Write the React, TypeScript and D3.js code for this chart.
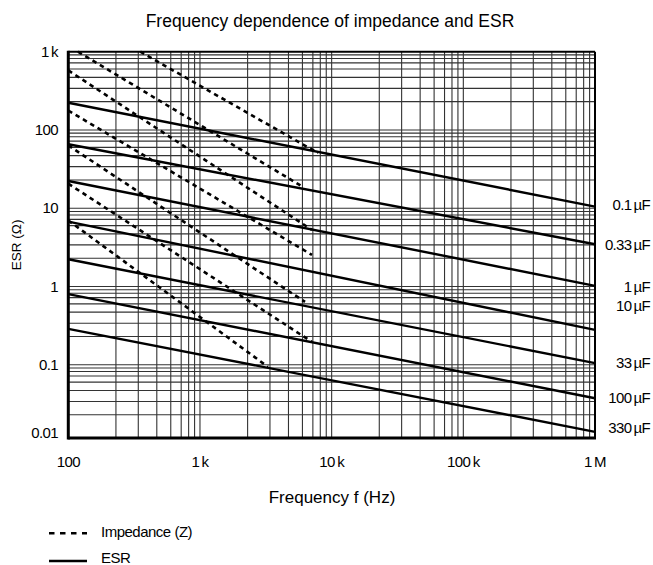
import React, { useEffect, useRef } from 'react';
import * as d3 from 'd3';

// ESR curves, one per capacitance (ohms at 100 Hz and at 1 MHz)
const capLabels = ['0.1\u2009µF', '0.33\u2009µF', '1\u2009µF', '10\u2009µF', '33\u2009µF', '100\u2009µF', '330\u2009µF'];
const esrAt100Hz = [223, 65.6, 22.3, 6.74, 2.23, 0.8, 0.288];
const esrAt1MHz = [10.5, 3.47, 1.02, 0.279, 0.105, 0.0374, 0.0139];
// level (ohms) where each capacitance label sits on the right
const labelLevel = [11.0, 3.4, 1.0, 0.565, 0.107, 0.0374, 0.0156];

// impedance curves: start and end points
const zStartFreq = [352, 118.5, 100, 100, 100, 100, 100];
const zStartOhm = [1000, 1000, 577, 177, 63.4, 20.6, 6.98];
const zEndFreq = [7876, 6057, 7093, 7093, 6278, 7093, 3286];
const zEndOhm = [50.8, 18.7, 5.28, 2.53, 0.635, 0.196, 0.094];

const xTicks = [100, 1e3, 1e4, 1e5, 1e6];
const xTickLabels = ['100', '1\u2009k', '10\u2009k', '100\u2009k', '1\u2009M'];
const yTicks = [1000, 100, 10, 1, 0.1, 0.01];
const yTickLabels = ['1\u2009k', '100', '10', '1', '0.1', '0.01'];
// minor grid steps inside each decade, as drawn on the sheet
const gridSteps = [2.3, 3.4, 4.7, 6, 7.2, 8.2, 9.1];

const font = "'Liberation Sans', Arial, sans-serif";
const W = 653;
const H = 565;
const plot = { left: 68.3, right: 595, top: 51.7, bottom: 438 };

export default function App() {
    const ref = useRef<SVGSVGElement>(null);

    useEffect(() => {
        if (!ref.current) return;
        const svg = d3.select(ref.current);
        svg.selectAll('*').remove();

        const x = d3.scaleLog().domain([100, 1e6]).range([plot.left, plot.right]);
        const y = d3.scaleLog().domain([0.0116, 1000]).range([plot.bottom, plot.top]).clamp(true);

        // grid
        const xGrid: number[] = [];
        [100, 1e3, 1e4, 1e5].forEach(d => {
            gridSteps.forEach(m => xGrid.push(d * m));
            if (d > 100) xGrid.push(d);
        });
        const yGrid: number[] = [];
        [0.01, 0.1, 1, 10, 100].forEach(d => {
            gridSteps.forEach(m => { if (d * m > 0.0116) yGrid.push(d * m); });
            if (d > 0.01) yGrid.push(d);
        });
        const grid = svg.append('g').attr('stroke', '#333').attr('stroke-width', 1.1);
        grid.selectAll('line.gx').data(xGrid).enter().append('line')
            .attr('x1', d => x(d)).attr('x2', d => x(d))
            .attr('y1', plot.top).attr('y2', plot.bottom);
        grid.selectAll('line.gy').data(yGrid).enter().append('line')
            .attr('y1', d => y(d)).attr('y2', d => y(d))
            .attr('x1', plot.left).attr('x2', plot.right);

        const line = d3.line<[number, number]>().x(d => x(d[0])).y(d => y(d[1]));

        // impedance (dashed)
        svg.append('g').selectAll('path').data(zStartFreq.map((f, i) => [[f, zStartOhm[i]], [zEndFreq[i], zEndOhm[i]]] as [number, number][]))
            .enter().append('path')
            .attr('d', d => line(d))
            .attr('fill', 'none').attr('stroke', '#000').attr('stroke-width', 2.6)
            .attr('stroke-dasharray', '4.5 4');

        // ESR (solid)
        svg.append('g').selectAll('path').data(esrAt100Hz.map((v, i) => [[100, v], [1e6, esrAt1MHz[i]]] as [number, number][]))
            .enter().append('path')
            .attr('d', d => line(d))
            .attr('fill', 'none').attr('stroke', '#000').attr('stroke-width', 2.4);

        // frame
        const frame = svg.append('g').attr('stroke', '#000');
        frame.append('line').attr('x1', plot.left).attr('x2', plot.right).attr('y1', plot.top).attr('y2', plot.top).attr('stroke-width', 2);
        frame.append('line').attr('x1', plot.right).attr('x2', plot.right).attr('y1', plot.top).attr('y2', plot.bottom).attr('stroke-width', 2);
        frame.append('line').attr('x1', plot.left).attr('x2', plot.left).attr('y1', plot.top - 1).attr('y2', plot.bottom + 1.5).attr('stroke-width', 3);
        frame.append('line').attr('x1', plot.left).attr('x2', plot.right + 1).attr('y1', plot.bottom).attr('y2', plot.bottom).attr('stroke-width', 3);

        const text = svg.append('g').attr('font-family', font).attr('fill', '#000');

        // x ticks
        text.selectAll('text.xt').data(xTicks).enter().append('text')
            .attr('x', d => x(d)).attr('y', 467)
            .attr('text-anchor', 'middle').attr('font-size', 15).attr('letter-spacing', -0.6)
            .text((d, i) => xTickLabels[i]);

        // y ticks
        text.selectAll('text.yt').data(yTicks).enter().append('text')
            .attr('x', 58).attr('y', d => Math.min(y(d), plot.bottom - 5))
            .attr('dy', '0.35em')
            .attr('text-anchor', 'end').attr('font-size', 15).attr('letter-spacing', -0.6)
            .text((d, i) => yTickLabels[i]);

        // capacitance labels
        text.selectAll('text.cap').data(labelLevel).enter().append('text')
            .attr('x', 650).attr('y', d => y(d))
            .attr('dy', '0.35em')
            .attr('text-anchor', 'end').attr('font-size', 15).attr('letter-spacing', -0.7)
            .text((d, i) => capLabels[i]);

        // titles
        text.append('text').attr('x', 330).attr('y', 27).attr('text-anchor', 'middle')
            .attr('font-size', 17.5).text('Frequency dependence of impedance and ESR');
        text.append('text').attr('x', 332).attr('y', 503).attr('text-anchor', 'middle')
            .attr('font-size', 17).text('Frequency f (Hz)');
        text.append('text').attr('transform', `translate(21,${(plot.top + plot.bottom) / 2}) rotate(-90)`)
            .attr('text-anchor', 'middle').attr('font-size', 13.5).text('ESR (Ω)');

        // legend
        const legend = svg.append('g');
        legend.append('line').attr('x1', 49).attr('x2', 87).attr('y1', 533.3).attr('y2', 533.3)
            .attr('stroke', '#000').attr('stroke-width', 2.5).attr('stroke-dasharray', '5.5 5.5');
        legend.append('line').attr('x1', 49).attr('x2', 87).attr('y1', 561).attr('y2', 561)
            .attr('stroke', '#000').attr('stroke-width', 2.5);
        text.append('text').attr('x', 101).attr('y', 532).attr('dy', '0.35em')
            .attr('font-size', 15).attr('letter-spacing', -0.5).text('Impedance (Z)');
        text.append('text').attr('x', 101).attr('y', 557.5).attr('dy', '0.35em')
            .attr('font-size', 15).attr('letter-spacing', -0.5).text('ESR');
    }, []);

    return (
        <svg ref={ref} width={W} height={H}
            style={{ position: 'absolute', left: 0, top: 0, background: '#fff' }} />
    );
}
